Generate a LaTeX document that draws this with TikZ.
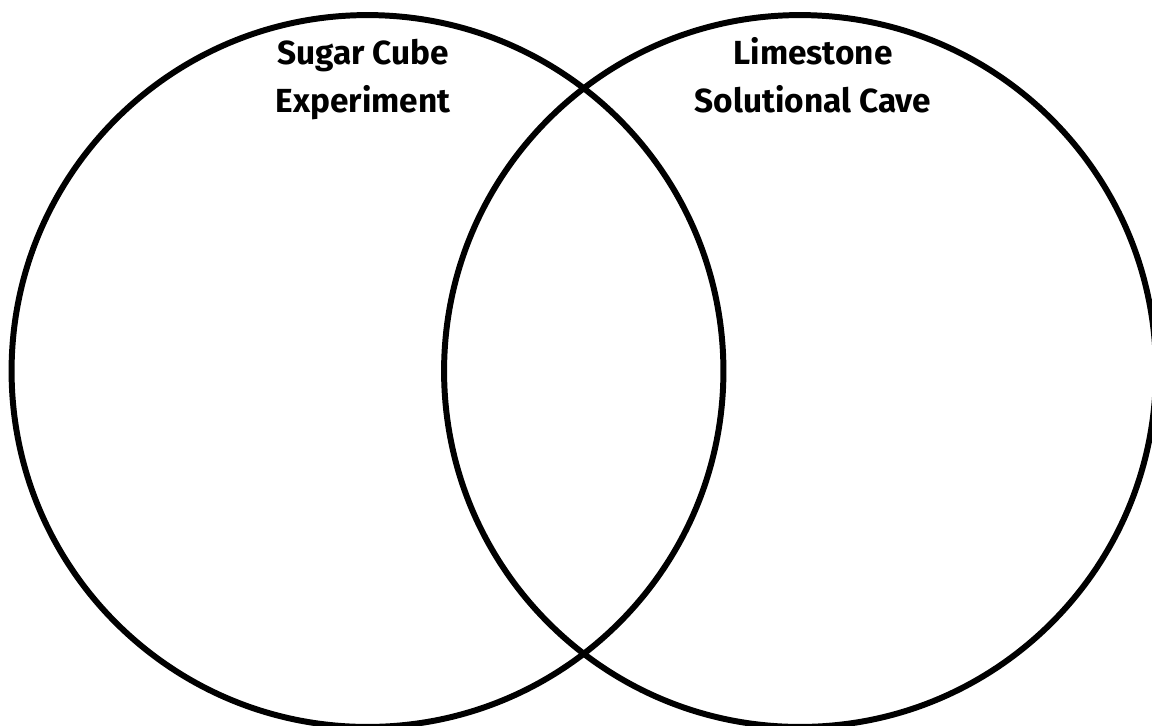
\documentclass[tikz,border=0pt]{standalone}
\usepackage{fontspec}
\setmainfont{Fira Sans}
\usepackage{tikz}
\usetikzlibrary{positioning}
\tikzset{
  set/.style={circle,draw=black,line width=3.4pt,minimum size=14.24cm,inner sep=0pt,outer sep=0pt},
  ttl/.style={font=\fontsize{19}{23}\selectfont\bfseries,anchor=base,inner sep=0pt},
}
\begin{document}
\begin{tikzpicture}[x=0.02cm,y=-0.02cm]
\useasboundingbox (0,0) rectangle (1152,725);
% the two sets
\node[set] (sugar) at (367.5,371) {};
\node[set] (lime) at (800,371) {};
% titles, two lines each
\node[ttl] (s1) at (363,64) {Sugar Cube};
\node[ttl] (s2) at (363,112) {Experiment};
\node[ttl] (l1) at (813,64) {Limestone};
\node[ttl] (l2) at (813,112) {Solutional Cave};
\end{tikzpicture}
\end{document}
